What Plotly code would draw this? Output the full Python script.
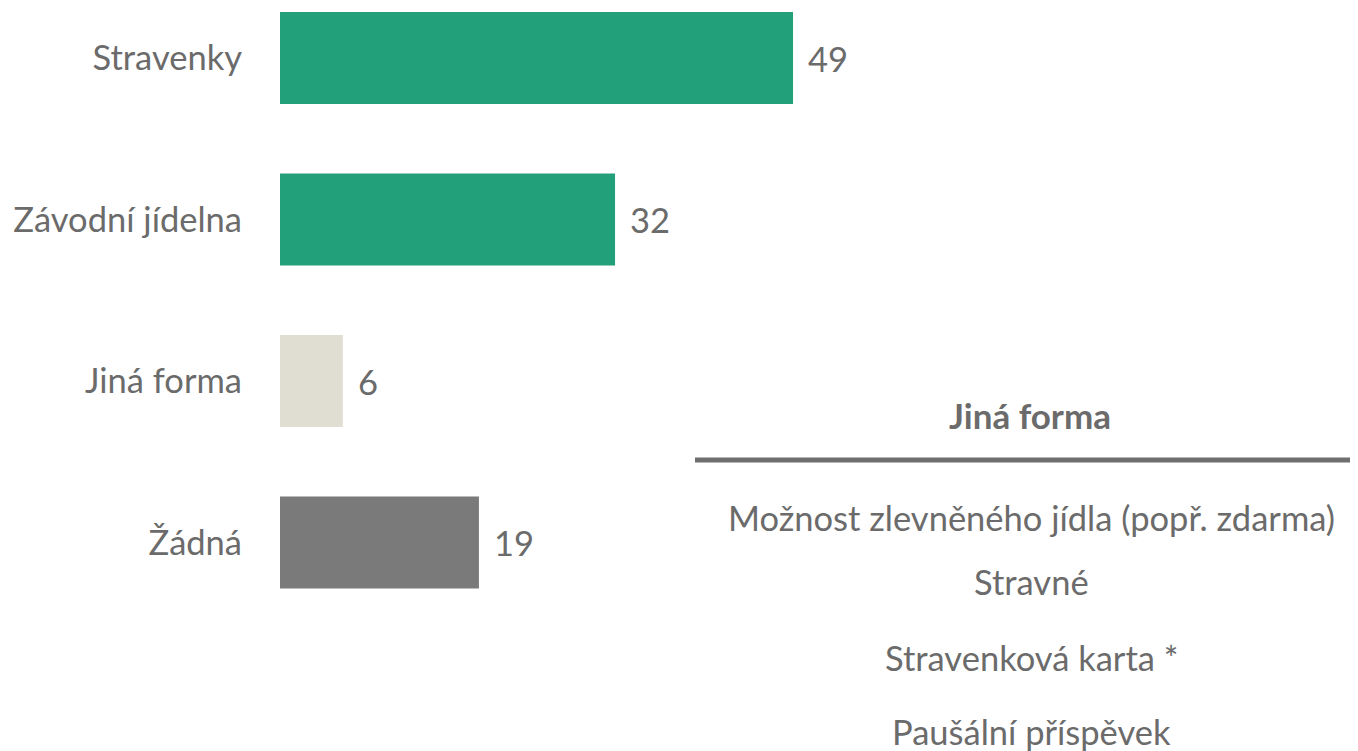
import plotly.graph_objects as go

categories = ["Stravenky", "Závodní jídelna", "Jiná forma", "Žádná"]
values = [49, 32, 6, 19]
bar_colors = ["#21A07A", "#21A07A", "#E0DDD2", "#7A7A7A"]

panel_title = "Jiná forma"
other_forms = [
    "Možnost zlevněného jídla (popř. zdarma)",
    "Stravné",
    "Stravenková karta *",
    "Paušální příspěvek",
]

OFF = 8  # browser default body margin
W, H = 1358 - OFF, 751 - OFF
L = 280 - OFF
FONT = "Lato, 'Noto Sans', sans-serif"
TXT = "#6B6B6B"
FS = 34.5

fig = go.Figure()
fig.add_trace(go.Bar(
    x=values, y=categories, orientation="h",
    marker=dict(color=bar_colors, line=dict(width=0)),
    width=0.57, hoverinfo="skip",
))

for c, v in zip(categories, values):
    fig.add_annotation(x=v, y=c, text=str(v), showarrow=False,
                       xanchor="left", yanchor="middle", xshift=13,
                       font=dict(family=FONT, size=FS, color=TXT))

def px_x(px):
    return (px - OFF - L) / (W - L)

def px_y(py):
    return 1 - (py - OFF) / H

fig.add_annotation(x=px_x(1030), y=px_y(415), xref="paper", yref="paper",
                   text="<b>" + panel_title + "</b>", showarrow=False,
                   xanchor="center", yanchor="middle",
                   font=dict(family=FONT, size=35, color=TXT))
fig.add_shape(type="line", xref="paper", yref="paper",
              x0=px_x(695), x1=1.0, y0=px_y(460), y1=px_y(460),
              line=dict(color="#6F6F6F", width=5))

item_y = [518, 581, 657, 731]
for t, py in zip(other_forms, item_y):
    fig.add_annotation(x=px_x(1031), y=px_y(py), xref="paper", yref="paper",
                       text=t, showarrow=False, xanchor="center", yanchor="middle",
                       font=dict(family=FONT, size=FS, color=TXT))

y_top = -(58 - OFF) / 161.5
y_bot = y_top + H / 161.5

fig.update_layout(
    width=W, height=H,
    margin=dict(l=L, r=0, t=0, b=0),
    paper_bgcolor="white", plot_bgcolor="white",
    showlegend=False,
    xaxis=dict(range=[0, (W - L) / 10.47], visible=False, fixedrange=True),
    yaxis=dict(type="category", categoryorder="array", categoryarray=categories,
               range=[y_bot, y_top], showgrid=False, zeroline=False, showline=False,
               ticks="", ticklabelstandoff=37,
               tickfont=dict(family=FONT, size=FS, color=TXT), fixedrange=True),
)

fig.write_html("out.html", config={"displayModeBar": False})
